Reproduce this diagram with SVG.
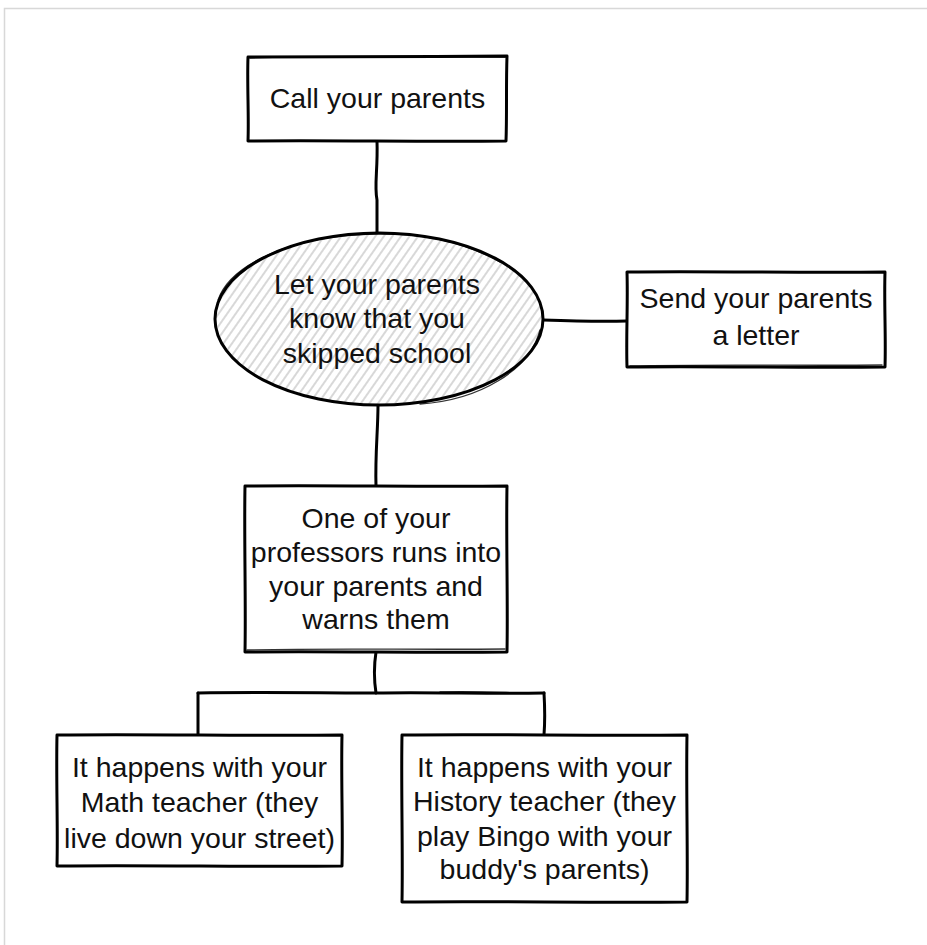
<svg xmlns="http://www.w3.org/2000/svg" width="927" height="945" viewBox="0 0 927 945">
<defs>
<pattern id="hatch" patternUnits="userSpaceOnUse" width="7" height="7" patternTransform="rotate(35)">
<line x1="2" y1="0" x2="2" y2="7" stroke="#b8b8b8" stroke-width="1.1"/>
</pattern>
</defs>
<style>
.sk{fill:none;stroke:#000;stroke-width:3;stroke-linecap:round;stroke-linejoin:round}
.sk2{fill:none;stroke:#000;stroke-width:1.3;stroke-linecap:round;opacity:.8}
.box{fill:#fff}
.t{font-family:"Liberation Sans",Arial,sans-serif;font-size:28.5px;fill:#111;text-anchor:middle}
</style>
<rect width="927" height="945" fill="#fff"/>
<path d="M4.5 945 V8.5 H927" fill="none" stroke="#d8d8d8" stroke-width="1.5"/>
<g id="connectors">
<path class="sk" d="M377 141 C378 170 374 185 377 200 C377 215 377 225 377 234"/>
<path class="sk" d="M543 320 C570 321 600 322 627 321"/>
<path class="sk" d="M378 405 C378 430 375 455 376 486"/>
<path class="sk" d="M376 652 C374 665 374 680 376 693"/>
<path class="sk" d="M198 693 C260 692 320 693 376 693 C430 692 490 694 544 693"/>
<path class="sk2" d="M440 692 C480 691 510 693 530 693"/>
<path class="sk" d="M198 693 L198 735"/>
<path class="sk" d="M544 693 C545 710 545 722 544 735"/>
</g>
<g id="n1">
<rect class="box" x="248" y="57" width="259" height="84"/>
<path class="sk" d="M248 57 C330 56 420 57 507 56 C506 85 507 115 506 141 C420 142 330 140 248 141 C249 115 247 85 248 57"/>
<path class="sk2" d="M250 58 C330 55 430 58 505 57"/>
<text class="t" x="377.5" y="108">Call your parents</text>
</g>
<g id="n2">
<ellipse cx="379" cy="319" rx="164" ry="86" fill="#fff"/>
<ellipse cx="379" cy="319" rx="164" ry="86" fill="url(#hatch)"/>
<ellipse class="sk" cx="379" cy="319" rx="164" ry="86"/>
<path class="sk2" d="M218 300 C230 265 290 236 372 234 C420 233 460 240 500 262"/>
<path class="sk2" d="M540 330 C530 370 480 400 420 404"/>
<text class="t" x="377" y="294">Let your parents</text>
<text class="t" x="377" y="328">know that you</text>
<text class="t" x="377" y="363">skipped school</text>
</g>
<g id="n3">
<rect class="box" x="627" y="272" width="258" height="95"/>
<path class="sk" d="M627 272 C710 271 800 273 885 272 C884 305 886 335 885 367 C800 368 710 366 627 367 C626 335 628 305 627 272"/>
<path class="sk2" d="M630 366 C720 364 800 366 882 365"/>
<text class="t" x="756" y="308">Send your parents</text>
<text class="t" x="756" y="345">a letter</text>
</g>
<g id="n4">
<rect class="box" x="245" y="486" width="262" height="166"/>
<path class="sk" d="M245 486 C330 485 420 487 507 486 C506 540 508 600 507 652 C420 653 330 651 245 652 C246 600 244 540 245 486"/>
<path class="sk2" d="M247 650 C330 648 420 650 505 649"/>
<text class="t" x="376" y="528">One of your</text>
<text class="t" x="376" y="562">professors runs into</text>
<text class="t" x="376" y="596">your parents and</text>
<text class="t" x="376" y="629">warns them</text>
</g>
<g id="n5">
<rect class="box" x="57" y="735" width="285" height="131"/>
<path class="sk" d="M57 735 C150 734 250 736 342 735 C341 780 343 825 342 866 C250 867 150 865 57 866 C58 825 56 780 57 735"/>
<text class="t" x="199.5" y="777">It happens with your</text>
<text class="t" x="199.5" y="812">Math teacher (they</text>
<text class="t" x="199.5" y="848">live down your street)</text>
</g>
<g id="n6">
<rect class="box" x="402" y="735" width="285" height="167"/>
<path class="sk" d="M402 735 C500 734 590 736 687 735 C686 790 688 850 687 902 C590 903 500 901 402 902 C403 850 401 790 402 735"/>
<text class="t" x="544.5" y="777">It happens with your</text>
<text class="t" x="544.5" y="811">History teacher (they</text>
<text class="t" x="544.5" y="846">play Bingo with your</text>
<text class="t" x="544.5" y="879">buddy's parents)</text>
</g>
</svg>
